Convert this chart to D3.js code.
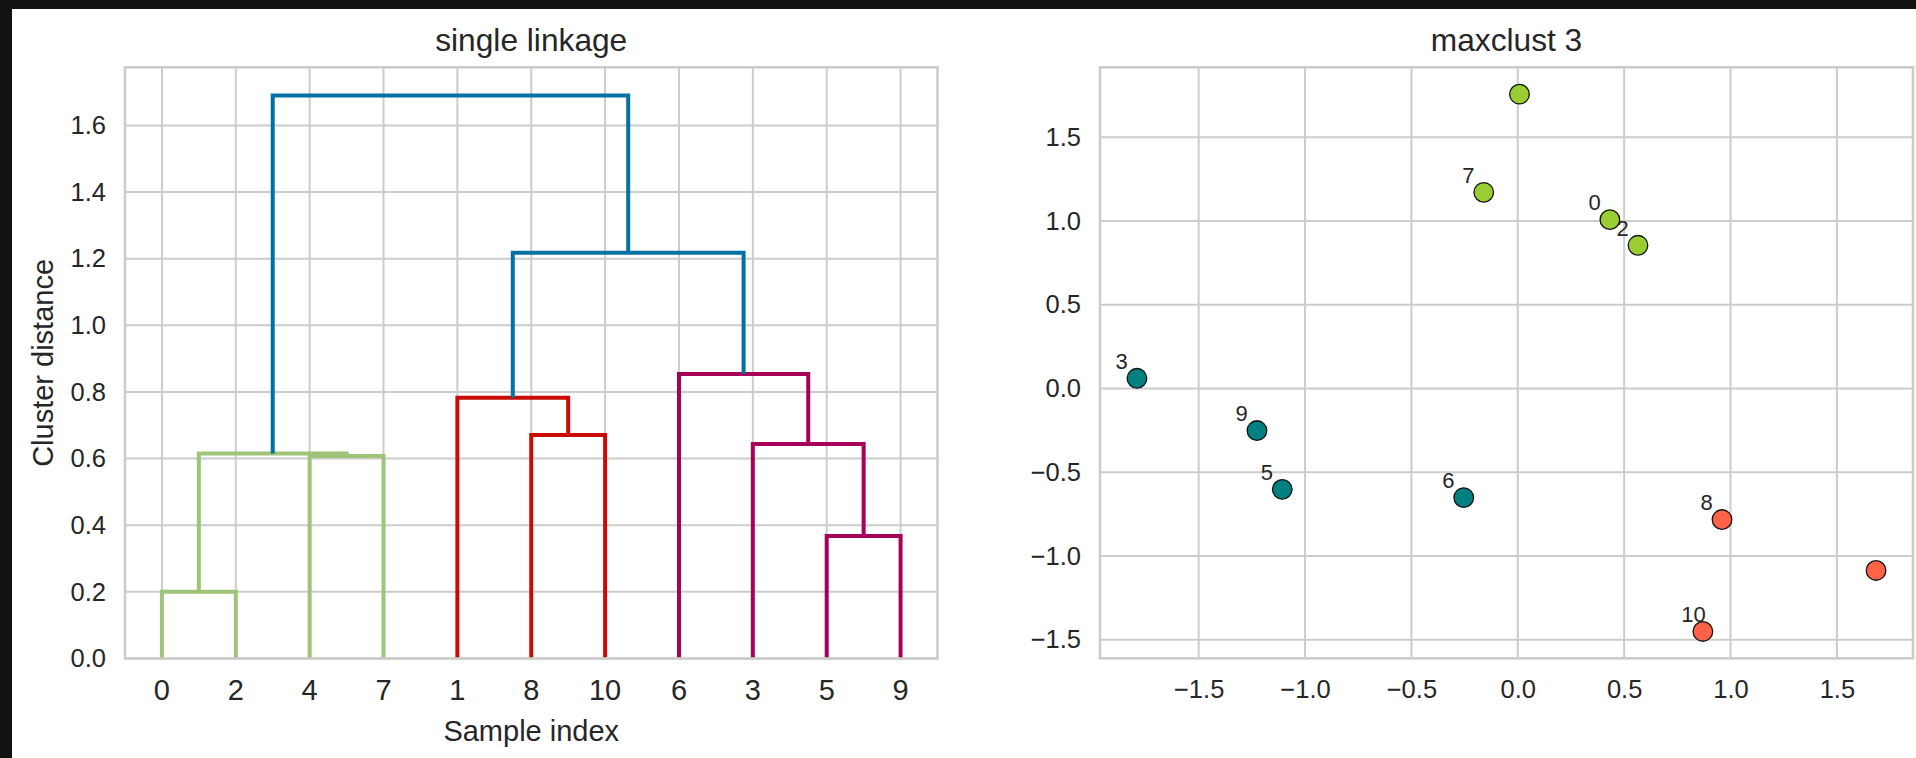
<!DOCTYPE html>
<html>
<head>
<meta charset="utf-8">
<script src="https://cdn.jsdelivr.net/npm/d3@7/dist/d3.min.js"></script>
<style>
  body { margin: 0; background: #121212; }
  svg { display: block; }
  text { font-family: "Liberation Sans", Arial, sans-serif; fill: #262626; }
</style>
</head>
<body>
<svg id="chart" width="1916" height="758"></svg>
<script>
// --- dendrogram (single linkage), scipy style merge list; new node ids start at 11
const leafIds    = [0, 1, 2, 3, 4, 5, 6, 7, 8, 9, 10];
const mergeLeft  = [0, 5, 4, 11, 3, 8, 1, 6, 17, 14];
const mergeRight = [2, 9, 7, 13, 12, 10, 16, 15, 18, 19];
const mergeDist  = [0.200, 0.368, 0.608, 0.615, 0.644, 0.671, 0.783, 0.854, 1.218, 1.690];
const linkPalette = ['#9fc377', '#ca0b03', '#a50258'];
const aboveThresholdColor = '#0272a2';
const distTicks = [0, 0.2, 0.4, 0.6, 0.8, 1.0, 1.2, 1.4, 1.6];

// --- scatter, maxclust 3
const sampleX = [0.433, 1.684, 0.565, -1.790, 0.008, -1.107, -0.254, -0.160, 0.960, -1.226, 0.870];
const sampleY = [1.008, -1.086, 0.855, 0.061, 1.757, -0.602, -0.651, 1.171, -0.782, -0.251, -1.450];
const sampleCluster = [1, 2, 1, 3, 1, 3, 3, 1, 2, 3, 2];
const clusterColors = ['#9acd32', '#ff6347', '#008080'];
const labelledSamples = [0, 2, 3, 5, 6, 7, 8, 9, 10];
const scatterTicks = [-1.5, -1.0, -0.5, 0.0, 0.5, 1.0, 1.5];

const svg = d3.select('#chart');
const W = 1916, H = 758;

// white figure area inside dark frame
svg.append('rect').attr('x', 12).attr('y', 9).attr('width', W).attr('height', H).attr('fill', '#ffffff');

const gridColor = '#cccccc';

function styleAxis(g, size) {
  g.attr('font-size', null).attr('font-family', null);
  g.select('.domain').remove();
  g.selectAll('text').attr('font-size', size);
}

function drawFrame(box) {
  svg.append('rect')
    .attr('x', box.x0).attr('y', box.y0)
    .attr('width', box.x1 - box.x0).attr('height', box.y1 - box.y0)
    .attr('fill', 'none').attr('stroke', gridColor).attr('stroke-width', 2.6);
}

// ================= dendrogram =================
function drawDendrogram() {
  const box = { x0: 125, x1: 937.5, y0: 67.3, y1: 658.5 };
  const n = leafIds.length;

  // children lookup and leaf order by walking from the root
  const children = {};
  mergeDist.forEach((d, i) => { children[n + i] = [mergeLeft[i], mergeRight[i]]; });
  const root = n + mergeDist.length - 1;
  const order = [];
  (function walk(id) {
    if (id < n) { order.push(id); return; }
    walk(children[id][0]); walk(children[id][1]);
  })(root);

  const maxDist = d3.max(mergeDist);
  const x = d3.scaleBand().domain(order.map(String)).range([box.x0, box.x1]).padding(0);
  const y = d3.scaleLinear().domain([0, maxDist * 1.05]).range([box.y1, box.y0]);

  // grid
  svg.append('g').selectAll('line').data(distTicks).join('line')
    .attr('x1', box.x0).attr('x2', box.x1)
    .attr('y1', d => y(d)).attr('y2', d => y(d))
    .attr('stroke', gridColor).attr('stroke-width', 2);
  svg.append('g').selectAll('line').data(order).join('line')
    .attr('x1', d => x(String(d)) + x.bandwidth() / 2).attr('x2', d => x(String(d)) + x.bandwidth() / 2)
    .attr('y1', box.y0).attr('y2', box.y1)
    .attr('stroke', gridColor).attr('stroke-width', 2);

  // node positions
  const pos = {};
  order.forEach(id => { pos[id] = { x: x(String(id)) + x.bandwidth() / 2, h: 0 }; });
  mergeDist.forEach((d, i) => {
    const a = pos[mergeLeft[i]], b = pos[mergeRight[i]];
    pos[n + i] = { x: (a.x + b.x) / 2, h: d };
  });

  // colour clusters below 0.7 * max, left to right
  const threshold = 0.7 * maxDist;
  const color = {};
  let k = 0;
  (function paint(id, c) {
    if (id < n) return;
    const d = mergeDist[id - n];
    let cc = c;
    if (d >= threshold) cc = aboveThresholdColor;
    else if (c === aboveThresholdColor || c === undefined) cc = linkPalette[k++ % linkPalette.length];
    color[id] = cc;
    const [l, r] = children[id];
    paint(l, d >= threshold ? aboveThresholdColor : cc);
    paint(r, d >= threshold ? aboveThresholdColor : cc);
  })(root, undefined);

  const links = mergeDist.map((d, i) => ({ id: n + i, l: mergeLeft[i], r: mergeRight[i] }));
  svg.append('g').selectAll('path').data(links).join('path')
    .attr('d', lk => {
      const a = pos[lk.l], b = pos[lk.r], h = pos[lk.id].h;
      return `M${a.x},${y(a.h)}V${y(h)}H${b.x}V${y(b.h)}`;
    })
    .attr('fill', 'none')
    .attr('stroke', lk => color[lk.id])
    .attr('stroke-width', 4);

  drawFrame(box);

  const gx = svg.append('g').attr('transform', `translate(0,${box.y1})`)
    .call(d3.axisBottom(x).tickSize(0).tickPadding(20.5));
  styleAxis(gx, 29);

  const gy = svg.append('g').attr('transform', `translate(${box.x0},0)`)
    .call(d3.axisLeft(y).tickValues(distTicks).tickSize(0).tickPadding(19).tickFormat(d3.format('.1f')));
  styleAxis(gy, 25.5);

  svg.append('text').attr('x', (box.x0 + box.x1) / 2).attr('y', 51)
    .attr('text-anchor', 'middle').attr('font-size', 31.7).text('single linkage');
  svg.append('text').attr('x', (box.x0 + box.x1) / 2).attr('y', 741)
    .attr('text-anchor', 'middle').attr('font-size', 29).text('Sample index');
  svg.append('text').attr('transform', `translate(53,${(box.y0 + box.y1) / 2}) rotate(-90)`)
    .attr('text-anchor', 'middle').attr('font-size', 29).text('Cluster distance');
}

// ================= scatter =================
function drawScatter() {
  const box = { x0: 1100, x1: 1913, y0: 67.3, y1: 658.3 };
  const pad = ext => { const m = (ext[1] - ext[0]) * 0.05; return [ext[0] - m, ext[1] + m]; };
  const x = d3.scaleLinear().domain(pad(d3.extent(sampleX))).range([box.x0, box.x1]);
  const y = d3.scaleLinear().domain(pad(d3.extent(sampleY))).range([box.y1, box.y0]);

  svg.append('g').selectAll('line').data(scatterTicks).join('line')
    .attr('x1', box.x0).attr('x2', box.x1)
    .attr('y1', d => y(d)).attr('y2', d => y(d))
    .attr('stroke', gridColor).attr('stroke-width', 2);
  svg.append('g').selectAll('line').data(scatterTicks).join('line')
    .attr('x1', d => x(d)).attr('x2', d => x(d))
    .attr('y1', box.y0).attr('y2', box.y1)
    .attr('stroke', gridColor).attr('stroke-width', 2);

  drawFrame(box);

  const idx = d3.range(sampleX.length);
  svg.append('g').selectAll('circle').data(idx).join('circle')
    .attr('cx', i => x(sampleX[i])).attr('cy', i => y(sampleY[i]))
    .attr('r', 9.8)
    .attr('fill', i => clusterColors[sampleCluster[i] - 1])
    .attr('stroke', '#111').attr('stroke-width', 1.3);

  svg.append('g').selectAll('text').data(labelledSamples).join('text')
    .attr('x', i => x(sampleX[i]) - 21.5).attr('y', i => y(sampleY[i]) - 9.5)
    .attr('font-size', 22).text(i => i);

  const gx = svg.append('g').attr('transform', `translate(0,${box.y1})`)
    .call(d3.axisBottom(x).tickValues(scatterTicks).tickSize(0).tickPadding(21.5).tickFormat(d3.format('.1f')));
  styleAxis(gx, 25.5);

  const gy = svg.append('g').attr('transform', `translate(${box.x0},0)`)
    .call(d3.axisLeft(y).tickValues(scatterTicks).tickSize(0).tickPadding(19).tickFormat(d3.format('.1f')));
  styleAxis(gy, 25.5);

  svg.append('text').attr('x', (box.x0 + box.x1) / 2).attr('y', 51)
    .attr('text-anchor', 'middle').attr('font-size', 31.7).text('maxclust 3');
}

drawDendrogram();
drawScatter();
</script>
</body>
</html>
